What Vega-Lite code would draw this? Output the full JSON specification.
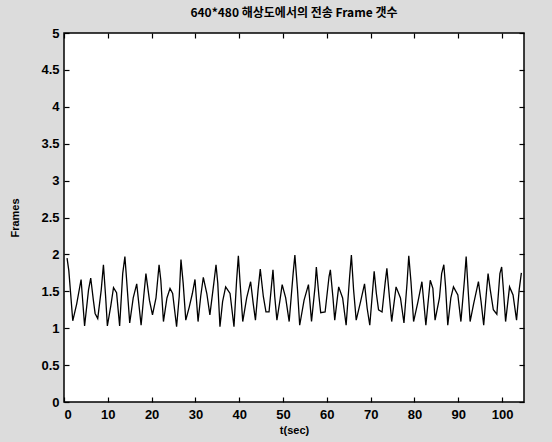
{
  "$schema": "https://vega.github.io/schema/vega-lite/v6.json",
  "width": 460,
  "height": 369,
  "autosize": "none",
  "padding": {"left": 64, "top": 33, "right": 28, "bottom": 40},
  "background": "#dcdcdc",
  "title": {"text": "640*480 해상도에서의 전송 Frame 갯수", "font": "Noto Sans CJK KR", "fontSize": 12, "fontWeight": "bold", "color": "#000000", "offset": 7, "anchor": "middle"},
  "config": {
    "view": {"fill": "#ffffff", "stroke": "#000000", "strokeWidth": 1.5},
    "axis": {"domain": false, "grid": false, "tickColor": "#000000", "tickSize": -5, "tickWidth": 1.2, "labelColor": "#000000", "labelFont": "Liberation Sans", "labelFontSize": 13, "labelFontWeight": "bold", "titleFont": "Liberation Sans", "titleFontSize": 11, "titleFontWeight": "bold", "titleColor": "#000000"}
  },
  "data": {"values": [
    {"t":0.7,"f":1.95},{"t":1.1,"f":1.78},{"t":1.5,"f":1.48},{"t":2.0,"f":1.1},{"t":2.9,"f":1.33},{"t":3.9,"f":1.66},{"t":4.7,"f":1.03},{"t":5.6,"f":1.52},{"t":6.1,"f":1.68},{"t":6.7,"f":1.38},{"t":7.1,"f":1.2},{"t":7.7,"f":1.13},{"t":8.5,"f":1.52},{"t":9.0,"f":1.86},{"t":9.5,"f":1.43},{"t":9.9,"f":1.03},{"t":10.7,"f":1.31},{"t":11.3,"f":1.55},{"t":12.0,"f":1.48},{"t":12.7,"f":1.03},{"t":13.4,"f":1.74},{"t":13.9,"f":1.97},{"t":14.3,"f":1.65},{"t":15.0,"f":1.07},{"t":15.8,"f":1.41},{"t":16.6,"f":1.6},
    {"t":17.6,"f":1.04},{"t":18.2,"f":1.43},{"t":18.7,"f":1.74},{"t":19.5,"f":1.38},{"t":20.2,"f":1.18},{"t":21.0,"f":1.41},{"t":21.7,"f":1.86},{"t":22.1,"f":1.65},{"t":22.7,"f":1.09},{"t":23.5,"f":1.41},{"t":24.2,"f":1.54},{"t":24.8,"f":1.47},{"t":25.7,"f":1.02},{"t":26.3,"f":1.43},{"t":26.7,"f":1.93},{"t":27.2,"f":1.61},{"t":27.8,"f":1.11},{"t":28.6,"f":1.29},{"t":29.3,"f":1.47},{"t":29.9,"f":1.66},{"t":30.6,"f":1.09},{"t":31.2,"f":1.43},{"t":31.8,"f":1.69},{"t":32.6,"f":1.47},{"t":33.3,"f":1.18},{"t":34.2,"f":1.61},
    {"t":34.7,"f":1.86},{"t":35.1,"f":1.61},{"t":35.6,"f":1.02},{"t":36.2,"f":1.36},{"t":36.9,"f":1.56},{"t":37.9,"f":1.47},{"t":38.8,"f":1.02},{"t":39.4,"f":1.65},{"t":39.8,"f":1.98},{"t":40.2,"f":1.61},{"t":40.8,"f":1.09},{"t":41.7,"f":1.41},{"t":42.6,"f":1.63},{"t":43.2,"f":1.33},{"t":43.7,"f":1.11},{"t":44.3,"f":1.52},{"t":44.8,"f":1.8},{"t":45.5,"f":1.43},{"t":46.1,"f":1.22},{"t":46.8,"f":1.22},{"t":47.7,"f":1.79},{"t":48.1,"f":1.43},{"t":48.6,"f":1.11},{"t":49.3,"f":1.38},{"t":49.8,"f":1.59},{"t":50.6,"f":1.41},{"t":51.4,"f":1.09},
    {"t":52.3,"f":1.74},{"t":52.7,"f":1.99},{"t":53.3,"f":1.52},{"t":53.8,"f":1.04},{"t":54.8,"f":1.38},{"t":55.8,"f":1.59},{"t":56.5,"f":1.09},{"t":57.3,"f":1.56},{"t":57.6,"f":1.83},{"t":58.2,"f":1.43},{"t":58.6,"f":1.21},{"t":59.6,"f":1.22},{"t":60.5,"f":1.7},{"t":60.8,"f":1.79},{"t":61.4,"f":1.41},{"t":61.8,"f":1.11},{"t":62.7,"f":1.56},{"t":63.6,"f":1.41},{"t":64.4,"f":1.04},{"t":65.2,"f":1.7},{"t":65.6,"f":1.99},{"t":66.1,"f":1.52},{"t":66.7,"f":1.11},{"t":67.7,"f":1.36},{"t":68.6,"f":1.6},
    {"t":69.2,"f":1.27},{"t":69.8,"f":1.04},{"t":70.8,"f":1.77},{"t":71.3,"f":1.47},{"t":71.8,"f":1.25},{"t":72.6,"f":1.22},{"t":73.3,"f":1.61},{"t":73.7,"f":1.81},{"t":74.3,"f":1.41},{"t":74.8,"f":1.09},{"t":75.8,"f":1.56},{"t":76.8,"f":1.41},{"t":77.6,"f":1.07},{"t":78.3,"f":1.61},{"t":78.7,"f":1.98},{"t":79.2,"f":1.63},{"t":79.8,"f":1.09},{"t":80.8,"f":1.36},{"t":81.7,"f":1.63},{"t":82.6,"f":1.04},{"t":83.6,"f":1.65},{"t":84.2,"f":1.54},{"t":84.7,"f":1.11},{"t":85.7,"f":1.41},{"t":86.2,"f":1.74},
    {"t":86.7,"f":1.86},{"t":87.1,"f":1.56},{"t":87.6,"f":1.04},{"t":88.3,"f":1.41},{"t":88.9,"f":1.56},{"t":89.9,"f":1.45},{"t":90.6,"f":1.09},{"t":91.4,"f":1.65},{"t":91.8,"f":1.97},{"t":92.3,"f":1.47},{"t":92.7,"f":1.09},{"t":93.5,"f":1.33},{"t":94.6,"f":1.63},{"t":95.2,"f":1.36},{"t":95.8,"f":1.04},{"t":96.4,"f":1.47},{"t":96.8,"f":1.74},{"t":97.3,"f":1.52},{"t":98.0,"f":1.25},{"t":98.8,"f":1.19},{"t":99.5,"f":1.74},{"t":99.9,"f":1.83},{"t":100.3,"f":1.52},{"t":100.8,"f":1.09},{"t":101.7,"f":1.56},{"t":102.5,"f":1.45},{"t":103.3,"f":1.11},{"t":103.9,"f":1.52},{"t":104.4,"f":1.75}
  ]},
  "layer": [
    {
      "mark": {"type": "line", "color": "#000000", "strokeWidth": 1.3},
      "encoding": {
        "x": {"field": "t", "type": "quantitative", "scale": {"domain": [0, 105], "nice": false}, "axis": {"orient": "bottom", "title": "t(sec)", "values": [0,10,20,30,40,50,60,70,80,90,100], "labelPadding": 11, "titlePadding": 3}},
        "y": {"field": "f", "type": "quantitative", "scale": {"domain": [0, 5], "nice": false}, "axis": {"orient": "left", "title": "Frames", "format": "~g", "values": [0,0.5,1,1.5,2,2.5,3,3.5,4,4.5,5], "labelPadding": 10, "titlePadding": 20}}
      }
    },
    {
      "mark": {"type": "line", "opacity": 0},
      "encoding": {
        "x": {"field": "t", "type": "quantitative", "axis": {"orient": "top", "title": null, "labels": false, "values": [0,10,20,30,40,50,60,70,80,90,100]}},
        "y": {"field": "f", "type": "quantitative", "axis": {"orient": "right", "title": null, "labels": false, "values": [0,0.5,1,1.5,2,2.5,3,3.5,4,4.5,5]}}
      }
    }
  ],
  "resolve": {"axis": {"x": "independent", "y": "independent"}}
}
